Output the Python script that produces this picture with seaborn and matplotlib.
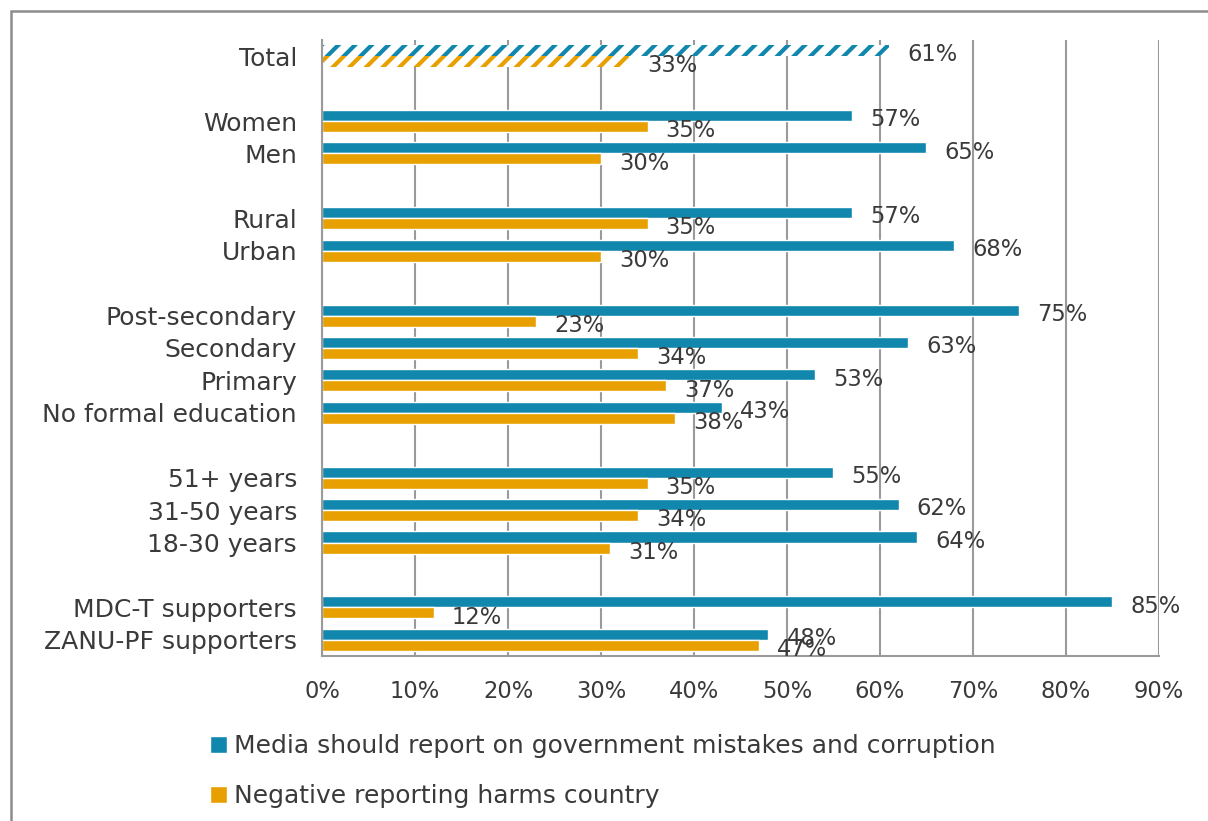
import matplotlib
matplotlib.use("Agg")
import matplotlib.pyplot as plt
from matplotlib.patches import Rectangle
import seaborn as sns
import pandas as pd

# Survey breakdown: share agreeing with each statement (%)
categories = [
    "Total", "Women", "Men", "Rural", "Urban",
    "Post-secondary", "Secondary", "Primary", "No formal education",
    "51+ years", "31-50 years", "18-30 years",
    "MDC-T supporters", "ZANU-PF supporters",
]
report_mistakes = [61, 57, 65, 57, 68, 75, 63, 53, 43, 55, 62, 64, 85, 48]
negative_harms = [33, 35, 30, 35, 30, 23, 34, 37, 38, 35, 34, 31, 12, 47]
series_names = [
    "Media should report on government mistakes and corruption",
    "Negative reporting harms country",
]
# Row order top to bottom; blank names act as spacer rows between groups
row_order = [
    "Total", " ",
    "Women", "Men", "  ",
    "Rural", "Urban", "   ",
    "Post-secondary", "Secondary", "Primary", "No formal education", "    ",
    "51+ years", "31-50 years", "18-30 years", "     ",
    "MDC-T supporters", "ZANU-PF supporters",
]
x_ticks = [0, 10, 20, 30, 40, 50, 60, 70, 80, 90]

BLUE = "#1187ad"
ORANGE = "#e8a000"
TEXT = "#3a3a3a"
GRID = "#9a9a9a"
FONT = ["DejaVu Sans"]
NUM_SIZE = 16.3
LABEL_SIZE = 18

df = pd.concat([
    pd.DataFrame({"group": categories, "value": report_mistakes, "series": series_names[0]}),
    pd.DataFrame({"group": categories, "value": negative_harms, "series": series_names[1]}),
])

sns.set_theme(style="white")
plt.rcParams["font.family"] = FONT
plt.rcParams["hatch.linewidth"] = 3.0

fig = plt.figure(figsize=(12.08, 8.21), dpi=100)
ax = fig.add_axes([0.2666, 0.2010, 0.6928, 0.7503])

sns.barplot(
    data=df, y="group", x="value", hue="series", order=row_order,
    hue_order=series_names, palette=[BLUE, ORANGE], orient="h",
    width=0.68, dodge=True, saturation=1, ax=ax, legend=True,
)

# Hatched styling for the overall total row, value labels for every bar
total_pos = row_order.index("Total")
for container, color in zip(ax.containers, [BLUE, ORANGE]):
    for bar in container:
        yc = bar.get_y() + bar.get_height() / 2
        val = bar.get_width()
        if abs(yc - total_pos) < 0.5:
            bar.set_facecolor("white")
            bar.set_edgecolor(color)
            bar.set_hatch("//")
            bar.set_linewidth(0)
        ax.annotate(
            f"{val:.0f}%", xy=(val, yc), xytext=(13, -3),
            textcoords="offset points", ha="left", va="center",
            fontsize=NUM_SIZE, color=TEXT,
        )

ax.set_xlim(0, 90)
ax.set_ylim(len(row_order) - 0.5, -0.5)
ax.set_xticks(x_ticks)
ax.set_xticklabels([f"{t}%" for t in x_ticks], fontsize=NUM_SIZE, color=TEXT)
ax.set_yticks(range(len(row_order)))
ax.set_yticklabels(row_order, fontsize=LABEL_SIZE, color=TEXT)
ax.set_yticks([i - 0.5 for i in range(len(row_order) + 1)], minor=True)
ax.tick_params(axis="y", which="major", length=0, pad=18)
ax.tick_params(axis="y", which="minor", length=6, width=1.3, color=GRID, direction="out")
ax.tick_params(axis="x", which="major", length=6, width=1.3, color=GRID, direction="out", pad=11)
ax.set_xlabel("")
ax.set_ylabel("")

ax.grid(axis="x", color=GRID, linewidth=1.5)
ax.set_axisbelow(True)
for side in ["top", "right"]:
    ax.spines[side].set_visible(False)
for side in ["left", "bottom"]:
    ax.spines[side].set_color(GRID)
    ax.spines[side].set_linewidth(1.5)

handles, labels = ax.get_legend_handles_labels()
ax.legend(
    handles, labels, loc="upper left",
    bbox_to_anchor=(0.174, 0.106), bbox_transform=fig.transFigure,
    ncol=1, frameon=False,
    prop={"family": FONT, "size": LABEL_SIZE},
    labelcolor=TEXT, handlelength=0.66, handleheight=0.66, handletextpad=0.3,
    labelspacing=1.05, borderaxespad=0, borderpad=0,
)

# Outer frame of the chart area
fig.patches.append(Rectangle(
    (0.009, -0.05), 1.2, 1.037, transform=fig.transFigure,
    fill=False, edgecolor="#8c8c8c", linewidth=1.8, zorder=0,
))

fig.savefig("out.png", dpi=100, facecolor="white")
